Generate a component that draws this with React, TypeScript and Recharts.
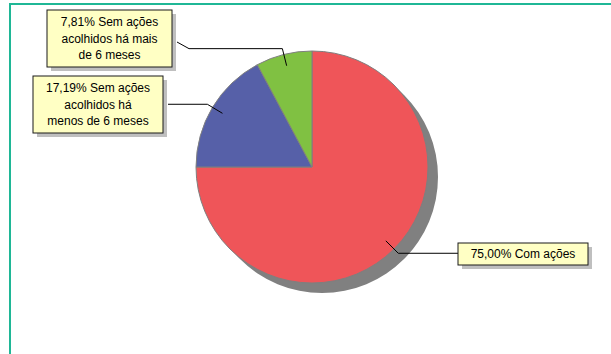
import { PieChart, Pie, Cell } from 'recharts';

// categories and values
const categories = [
  'Com ações',
  'Sem ações acolhidos há menos de 6 meses',
  'Sem ações acolhidos há mais de 6 meses',
];
const values = [75.0, 17.19, 7.81];

// how each label wraps (first line gets the percentage in front)
const labelWraps = [
  ['Com ações'],
  ['Sem ações', 'acolhidos há', 'menos de 6 meses'],
  ['Sem ações', 'acolhidos há mais', 'de 6 meses'],
];

const COLORS = ['#EF5559', '#5660A8', '#80C142'];
const SHADOW = '#808080';
const FONT = '"Liberation Sans", Arial, sans-serif';

// label boxes placed relative to the pie centre
const labelLayout = [
  { x: 146, y: 76, w: 130, h: 22, lineTo: 146 },
  { x: -279, y: -91, w: 130, h: 57, lineTo: -144 },
  { x: -265, y: -157, w: 125, h: 57, lineTo: -123, endX: -135, endY: -125 },
];

const data = categories.map((name, i) => ({ name, value: values[i] }));

const RAD = Math.PI / 180;

function fmtPct(p: number) {
  return (p * 100).toFixed(2).replace('.', ',') + '%';
}

function CalloutLabel(props: any) {
  const { cx, cy, midAngle, outerRadius, percent, index } = props;
  const lay = labelLayout[index];
  const cos = Math.cos(-midAngle * RAD);
  const sin = Math.sin(-midAngle * RAD);
  const x0 = cx + outerRadius * 0.9 * cos;
  const y0 = cy + outerRadius * 0.9 * sin;
  const x1 = cx + (outerRadius + 6) * cos;
  const y1 = cy + (outerRadius + 6) * sin;
  const x2 = cx + lay.lineTo;
  let pts = `${x0},${y0} ${x1},${y1} ${x2},${y1}`;
  if (lay.endX !== undefined) pts += ` ${cx + lay.endX},${cy + lay.endY}`;

  const lines = labelWraps[index].slice();
  lines[0] = `${fmtPct(percent)} ${lines[0]}`;
  const bx = cx + lay.x;
  const by = cy + lay.y;
  const lh = 16.7;
  const midY = by + lay.h / 2;
  const firstY = midY - ((lines.length - 1) * lh) / 2;

  return (
    <g>
      <polyline points={pts} fill="none" stroke="#000" strokeWidth={1} />
      <rect x={bx + 4} y={by + 4} width={lay.w} height={lay.h} fill="#BFBFBF" />
      <rect x={bx} y={by} width={lay.w} height={lay.h} fill="#FFFFC4" stroke="#1a1a1a" strokeWidth={1} />
      {lines.map((t, i) => (
        <text
          key={i}
          x={bx + lay.w / 2}
          y={firstY + i * lh}
          textAnchor="middle"
          dominantBaseline="central"
          fontFamily={FONT}
          fontSize={12}
          fill="#000"
        >
          {t}
        </text>
      ))}
    </g>
  );
}

export default function App() {
  return (
    <div style={{ position: 'absolute', left: 0, top: 0, width: 611, height: 354, background: '#fff', overflow: 'hidden' }}>
      <div
        style={{
          position: 'absolute',
          left: 9,
          top: 3,
          width: 620,
          height: 370,
          borderTop: '2px solid #1FB796',
          borderLeft: '2px solid #1FB796',
        }}
      />
      <div style={{ position: 'absolute', left: 0, top: 0 }}>
        <PieChart width={611} height={354} margin={{ top: 0, right: 0, bottom: 0, left: 0 }}>
          <Pie
            data={data}
            dataKey="value"
            nameKey="name"
            cx={322}
            cy={177}
            outerRadius={116}
            startAngle={90}
            endAngle={-270}
            stroke="none"
            fill={SHADOW}
            isAnimationActive={false}
          />
          <Pie
            data={data}
            dataKey="value"
            nameKey="name"
            cx={312}
            cy={167}
            outerRadius={116}
            startAngle={90}
            endAngle={-270}
            stroke="#7f7f7f"
            strokeWidth={1}
            label={CalloutLabel}
            labelLine={false}
            isAnimationActive={false}
          >
            {data.map((d, i) => (
              <Cell key={d.name} fill={COLORS[i]} />
            ))}
          </Pie>
        </PieChart>
      </div>
    </div>
  );
}
